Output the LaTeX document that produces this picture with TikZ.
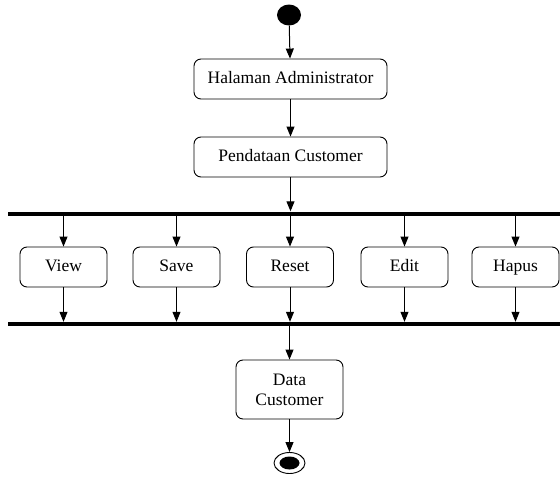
\documentclass[tikz,border=0pt]{standalone}
\usepackage{fontspec}
\setmainfont{Liberation Serif}
\usetikzlibrary{arrows.meta,shapes.geometric}
\begin{document}
\begin{tikzpicture}[x=1pt,y=-1pt,
  act/.style={draw, line width=0.9pt, rounded corners=7pt, inner sep=0pt,
    minimum height=40pt, align=center,
    font=\fontsize{17.5}{20}\selectfont},
  oneline/.style={act, text height=12pt, text depth=4pt},
  wide/.style={oneline, minimum width=193pt},
  narrow/.style={oneline, minimum width=87pt},
  bar/.style={fill=black, inner sep=0pt, minimum width=552pt, minimum height=4pt},
  arr/.style={line width=1pt, -{Triangle[width=8pt,length=10pt]}}
]
\useasboundingbox (0,0) rectangle (560,479);

% start and end states
\node[ellipse, fill=black, inner sep=0pt, minimum width=24pt, minimum height=21pt] (init) at (289,15) {};
\node[ellipse, draw, line width=0.9pt, inner sep=0pt, minimum width=31pt, minimum height=21pt] (final) at (289.5,463) {};
\fill (final.center) ellipse (10 and 6.5);

% activities
\node[wide] (admin) at (290.5,79) {Halaman Administrator};
\node[wide] (pendataan) at (290.5,157) {Pendataan Customer};

% fork and join bars
\node[bar] (fork) at (284,213.5) {};
\node[bar] (join) at (284,324) {};

\node[narrow] (view)  at (63.5,267)  {View};
\node[narrow] (save)  at (176.5,267) {Save};
\node[narrow] (reset) at (290,267)   {Reset};
\node[narrow] (edit)  at (404.5,267) {Edit};
\node[narrow] (hapus) at (515.5,267) {Hapus};

\node[act, minimum width=107pt, minimum height=59pt] (data) at (289.5,389.5) {Data\\Customer};

% flow
\draw[arr] (init) -- (admin);
\draw[arr] (admin) -- (pendataan);
\draw[arr] (pendataan) -- (pendataan |- fork.north);
\foreach \a in {view,save,reset,edit,hapus}{
  \draw[arr] (\a |- fork.south) -- (\a);
  \draw[arr] (\a) -- (\a |- join.north);
}
\draw[arr] (data |- join.south) -- (data);
\draw[arr] (data) -- (final);
\end{tikzpicture}
\end{document}
